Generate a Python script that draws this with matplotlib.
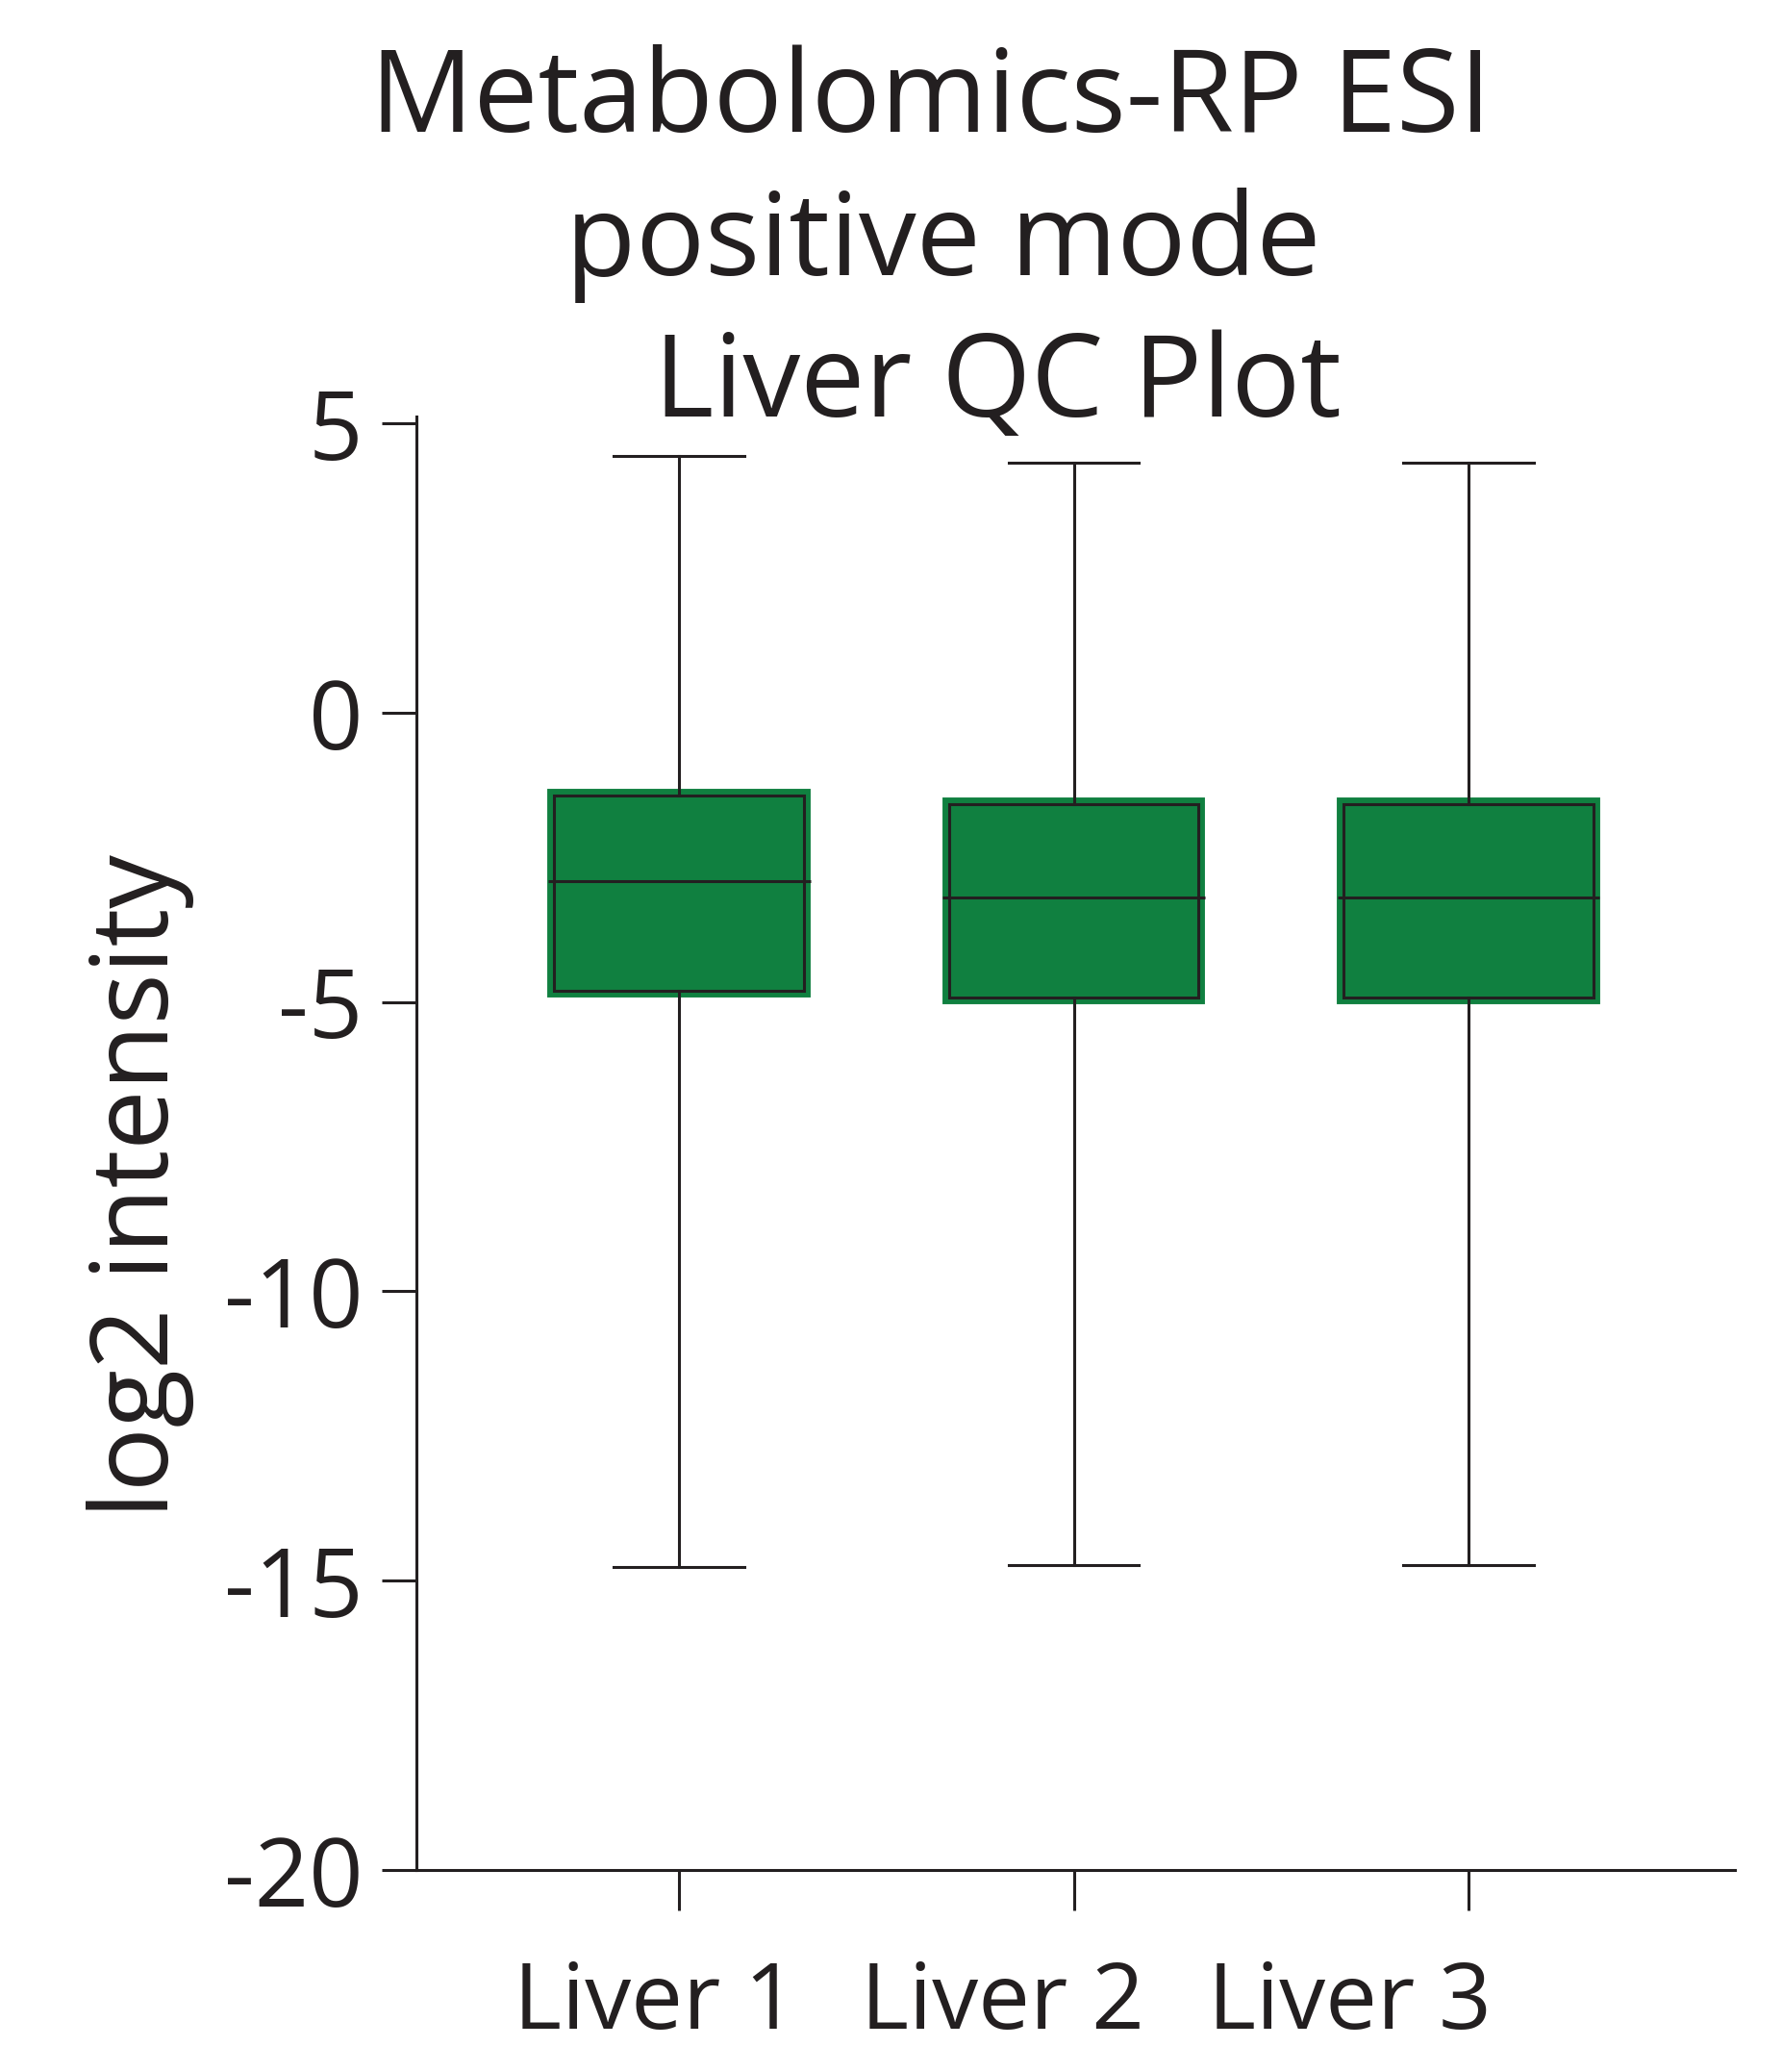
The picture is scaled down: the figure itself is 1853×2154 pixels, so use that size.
import matplotlib
matplotlib.use("Agg")
import matplotlib.pyplot as plt
import matplotlib.patheffects as pe
import matplotlib.transforms as mtransforms
import numpy as np

plt.rcParams['font.family'] = ['Open Sans', 'DejaVu Sans']

# values
samples = ['Liver 1', 'Liver 2', 'Liver 3']
whisker_high = [4.43, 4.32, 4.32]
q3 = [-1.43, -1.59, -1.59]
medians = [-2.92, -3.19, -3.19]
q1 = [-4.80, -4.92, -4.92]
whisker_low = [-14.77, -14.73, -14.73]

ink = '#231F20'
green = '#108040'

fig = plt.figure(figsize=(18.53, 21.54), dpi=100)
ax = fig.add_axes([0.2337, 0.09749, 0.7399, 0.7016])

positions = np.arange(1, len(samples) + 1)
stats = []
for i, name in enumerate(samples):
    stats.append({'label': name, 'whislo': whisker_low[i], 'q1': q1[i], 'med': medians[i],
                  'q3': q3[i], 'whishi': whisker_high[i], 'fliers': []})

box_w = 0.633
bp = ax.bxp(stats, positions=positions, widths=box_w, patch_artist=True,
            showfliers=False, capwidths=0.329,
            boxprops=dict(facecolor=green, edgecolor=ink, linewidth=2.2),
            whiskerprops=dict(color=ink, linewidth=2.2),
            capprops=dict(color=ink, linewidth=2.2),
            medianprops=dict(color=ink, linewidth=2.2))
for b in bp['boxes']:
    b.set_path_effects([pe.Stroke(linewidth=10, foreground=green), pe.Normal()])
# median runs out to the green edge
pad = 0.016
for m, x in zip(bp['medians'], positions):
    m.set_xdata([x - box_w / 2 - pad, x + box_w / 2 + pad])

ax.set_xlim(0.335, 3.675)
ax.set_ylim(-20, 5.12)
ax.set_yticks([5, 0, -5, -10, -15, -20])
ax.set_yticklabels(['5', '0', '-5', '-10', '-15', '-20'])
ax.set_xticks(positions)
ax.set_xticklabels([])

for s in ['top', 'right']:
    ax.spines[s].set_visible(False)
for s in ['left', 'bottom']:
    ax.spines[s].set_linewidth(2.2)
    ax.spines[s].set_color(ink)
ax.tick_params(axis='y', length=26, width=2.2, color=ink, labelsize=71, labelcolor=ink, pad=14)
ax.tick_params(axis='x', length=30, width=2.2, color=ink)

# sample names sit a little left of their ticks in the original
label_x = [0.94, 1.82, 2.70]
trans = mtransforms.blended_transform_factory(ax.transData, ax.transAxes)
for lx, name in zip(label_x, samples):
    ax.text(lx, -0.109, name, transform=trans, ha='center', va='baseline',
            fontsize=69, color=ink)

fig.text(0.0787, 0.4276, 'log2 intensity', rotation=90, ha='center', va='center',
         fontsize=80, color=ink)

fig.text(968 / 1853, 1 - 137 / 2154, 'Metabolomics-RP ESI', ha='center', va='baseline',
         fontsize=86, color=ink)
fig.text(981 / 1853, 1 - 286 / 2154, 'positive mode', ha='center', va='baseline',
         fontsize=86, color=ink)
fig.text(1037 / 1853, 1 - 433 / 2154, 'Liver QC Plot', ha='center', va='baseline',
         fontsize=86, color=ink)

fig.savefig('out.png', dpi=100, facecolor='white')
